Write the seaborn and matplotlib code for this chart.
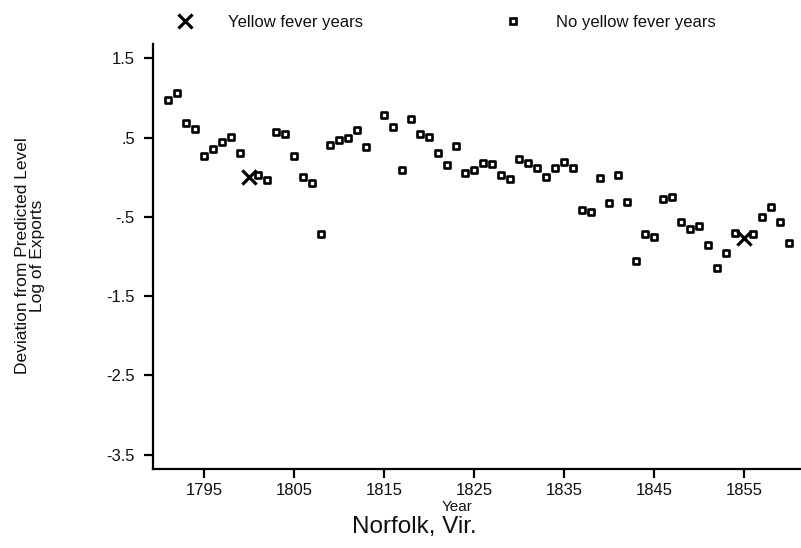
import matplotlib
matplotlib.use("Agg")
import matplotlib.pyplot as plt
from matplotlib.lines import Line2D
import pandas as pd
import seaborn as sns

# Export deviations by year, Norfolk, Virginia
no_fever_years = [
    1791, 1792, 1793, 1794, 1795, 1796, 1797, 1798, 1799,
    1801, 1802, 1803, 1804, 1805, 1806, 1807, 1808, 1809, 1810,
    1811, 1812, 1813, 1815, 1816, 1817, 1818, 1819, 1820,
    1821, 1822, 1823, 1824, 1825, 1826, 1827, 1828, 1829, 1830,
    1831, 1832, 1833, 1834, 1835, 1836, 1837, 1838, 1839, 1840,
    1841, 1842, 1843, 1844, 1845, 1846, 1847, 1848, 1849, 1850,
    1851, 1852, 1853, 1854, 1856, 1857, 1858, 1859, 1860,
]
no_fever_values = [
    0.98, 1.06, 0.68, 0.61, 0.27, 0.35, 0.45, 0.51, 0.31,
    0.03, -0.04, 0.57, 0.55, 0.27, 0.00, -0.07, -0.72, 0.41, 0.47,
    0.49, 0.59, 0.38, 0.79, 0.63, 0.09, 0.74, 0.55, 0.51,
    0.31, 0.15, 0.39, 0.05, 0.09, 0.18, 0.165, 0.03, -0.02, 0.23,
    0.18, 0.11, 0.005, 0.11, 0.19, 0.11, -0.41, -0.44, -0.015, -0.32,
    0.03, -0.31, -1.06, -0.72, -0.76, -0.28, -0.25, -0.57, -0.65, -0.62,
    -0.86, -1.14, -0.95, -0.71, -0.72, -0.50, -0.37, -0.57, -0.83,
]
fever_years = [1800, 1855]
fever_values = [0.00, -0.77]

x_ticks = [1795, 1805, 1815, 1825, 1835, 1845, 1855]
y_ticks = [1.5, 0.5, -0.5, -1.5, -2.5, -3.5]
y_tick_labels = ["1.5", ".5", "-.5", "-1.5", "-2.5", "-3.5"]

sns.set_style("ticks")
plt.rcParams["font.family"] = ["Liberation Sans", "DejaVu Sans"]

no_fever = pd.DataFrame({"Year": no_fever_years, "Deviation": no_fever_values})
fever = pd.DataFrame({"Year": fever_years, "Deviation": fever_values})

fig = plt.figure(figsize=(8.01, 5.48), dpi=100)
ax = fig.add_axes([0.191, 0.1442, 0.809, 0.7755])

sns.scatterplot(data=no_fever, x="Year", y="Deviation", ax=ax, marker="s",
                s=15, facecolor="white", edgecolor="black", linewidth=1.9,
                zorder=3, legend=False)
sns.scatterplot(data=fever, x="Year", y="Deviation", ax=ax, marker="x",
                s=105, color="black", linewidth=2.3, zorder=4, legend=False)

ax.set_xlim(1789.3, 1861.3)
ax.set_ylim(-3.68, 1.68)
ax.set_xticks(x_ticks)
ax.set_xticklabels([str(t) for t in x_ticks])
ax.set_yticks(y_ticks)
ax.set_yticklabels(y_tick_labels)

sns.despine(ax=ax)
for side in ("left", "bottom"):
    ax.spines[side].set_linewidth(1.6)
    ax.spines[side].set_color("black")
ax.tick_params(axis="both", direction="out", length=6.5, width=1.6,
               color="black", labelsize=12, labelcolor="#111111",
               bottom=True, left=True)
ax.tick_params(axis="y", pad=6.5)
ax.tick_params(axis="x", pad=3.5)
ax.set_xlabel("")
ax.set_ylabel("")

# Axis titles
fig.text(457 / 801, 1 - 507 / 548, "Year", ha="center", va="center",
         fontsize=11, color="#111111")
fig.text(414 / 801, 1 - 527 / 548, "Norfolk, Vir.", ha="center", va="center",
         fontsize=17.5, color="#111111")
fig.text(30 / 801, 1 - 256 / 548,
         "Deviation from Predicted Level\nLog of Exports",
         ha="center", va="center", rotation=90, fontsize=12.5,
         linespacing=1.05, color="#111111", multialignment="center")

# Legend above the plot
handles = [
    Line2D([], [], linestyle="none", marker="x", markersize=10,
           markeredgewidth=2.3, color="black"),
    Line2D([], [], linestyle="none", marker="s", markersize=3.9,
           markerfacecolor="white", markeredgecolor="black",
           markeredgewidth=1.9),
]
fig.legend(handles, ["Yellow fever years", "No yellow fever years"],
           loc="center left", bbox_to_anchor=(168 / 801, 1 - 22 / 548),
           ncol=2, frameon=False, fontsize=12, handlelength=2.0,
           handletextpad=1.6, columnspacing=8.0, borderpad=0,
           borderaxespad=0, labelcolor="#111111")

fig.savefig("out.png", dpi=100)
